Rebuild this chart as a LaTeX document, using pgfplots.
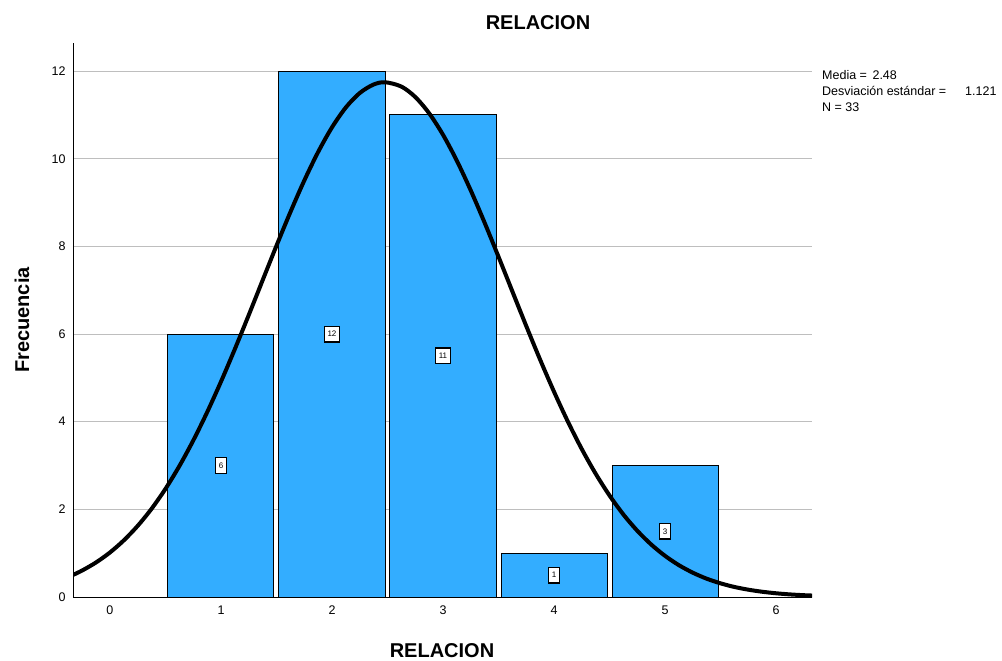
\documentclass[border=0pt]{standalone}
\usepackage{fontspec}
\setmainfont{Liberation Sans}
\usepackage{pgfplots}
\pgfplotsset{compat=1.18}
\definecolor{barblue}{RGB}{51,173,255}
\definecolor{gridgray}{RGB}{190,190,190}
\begin{document}
\begin{tikzpicture}
\path[use as bounding box] (-73bp,-64bp) rectangle (929bp,597bp);
\begin{axis}[
  at={(0bp,0bp)}, anchor=south west,
  scale only axis, width=739bp, height=554bp,
  xmin=-0.333, xmax=6.324, ymin=0, ymax=12.64,
  axis x line=bottom, axis y line=left,
  axis line style={-, black, line width=1bp},
  xtick={0,...,6}, ytick={0,2,...,12},
  major tick length=0pt,
  ymajorgrids, grid style={gridgray, line width=1bp},
  tick label style={font=\fontsize{12.5bp}{15bp}\selectfont},
  /pgf/number format/assume math mode=true,
  xticklabel style={yshift=-5.5bp},
  yticklabel style={xshift=-4bp},
  clip=true,
]
% histogram bars
\addplot[ybar, bar width=0.955, bar shift=0pt, fill=barblue, draw=black, line width=1bp]
  coordinates {(1,6) (2,12) (3,11) (4,1) (5,3)};
% count labels at half height
\addplot[draw=none, mark=none, nodes near coords, point meta=explicit symbolic,
  nodes near coords align={center},
  every node near coord/.style={draw=black, fill=white, line width=1.4bp,
    font=\fontsize{8bp}{9bp}\selectfont, inner xsep=3.2bp, inner ysep=5bp, anchor=center}]
  coordinates {(1,3) [6] (2,6) [12] (3,5.5) [11] (4,0.5) [1] (5,1.5) [3]};
% normal curve (N=33, mean 2.48, sd 1.121)
\addplot[black, line width=4bp, smooth, mark=none] coordinates {
  (-0.33,0.507) (-0.25,0.605) (-0.125,0.789) (0,1.016) (0.125,1.293)
  (0.25,1.624) (0.375,2.014) (0.5,2.468) (0.625,2.987) (0.75,3.570)
  (0.875,4.214) (1.0,4.913) (1.125,5.657) (1.25,6.432) (1.375,7.225)
  (1.5,8.015) (1.625,8.780) (1.75,9.500) (1.875,10.152) (2.0,10.715)
  (2.125,11.170) (2.25,11.499) (2.375,11.693) (2.48,11.744) (2.625,11.646)
  (2.75,11.408) (2.875,11.037) (3.0,10.546) (3.125,9.952) (3.25,9.276)
  (3.375,8.539) (3.5,7.763) (3.625,6.971) (3.75,6.182) (3.875,5.414)
  (4.0,4.684) (4.125,4.001) (4.25,3.376) (4.375,2.814) (4.5,2.316)
  (4.625,1.882) (4.75,1.512) (4.875,1.199) (5.0,0.939) (5.125,0.726)
  (5.25,0.555) (5.375,0.418) (5.5,0.312) (5.625,0.229) (5.75,0.167)
  (5.875,0.120) (6.0,0.085) (6.125,0.059) (6.25,0.041) (6.33,0.033)
};
\end{axis}
\node[font=\bfseries\fontsize{20bp}{24bp}\selectfont] at (465bp,574bp) {RELACION};
\node[font=\bfseries\fontsize{20bp}{24bp}\selectfont] at (369bp,-54bp) {RELACION};
\node[rotate=90, font=\bfseries\fontsize{20bp}{24bp}\selectfont] at (-51bp,277bp) {Frecuencia};
\begin{scope}[every node/.style={anchor=base west, inner sep=0pt, font=\fontsize{12.5bp}{15bp}\selectfont}]
\node at (749bp,517bp) {Media = \,2.48};
\node at (749bp,501bp) {Desviación estándar =};
\node at (892bp,501bp) {1.121};
\node at (749bp,485bp) {N = 33};
\end{scope}
\end{tikzpicture}
\end{document}
